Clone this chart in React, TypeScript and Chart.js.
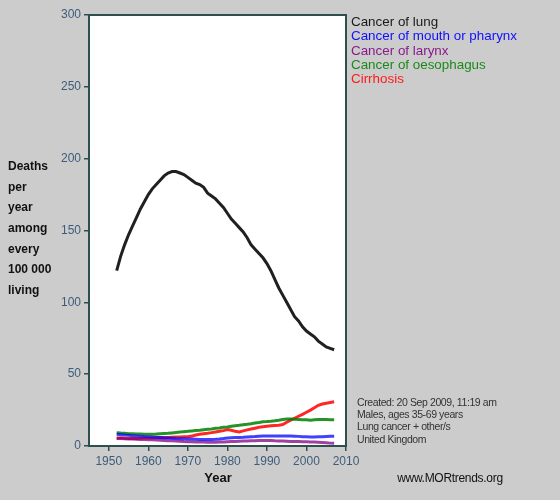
import React, { useEffect, useRef } from "react";
import { Chart, registerables } from "chart.js";

Chart.register(...registerables);

const years: number[] = [
  1952, 1953, 1954, 1955, 1956, 1957, 1958, 1959, 1960, 1961, 1962, 1963, 1964, 1965,
  1966, 1967, 1968, 1969, 1970, 1971, 1972, 1973, 1974, 1975, 1976, 1977, 1978, 1979,
  1980, 1981, 1982, 1983, 1984, 1985, 1986, 1987, 1988, 1989, 1990, 1991, 1992, 1993,
  1994, 1995, 1996, 1997, 1998, 1999, 2000, 2001, 2002, 2003, 2004, 2005, 2006, 2007,
];

const lung: number[] = [
  122, 132, 140, 147, 153, 159, 165, 170, 175, 179, 182, 185, 188, 190,
  191, 191, 190, 189, 187, 185, 183, 182, 180, 176, 174, 172, 169, 166,
  162, 158, 155, 152, 149, 145, 140, 137, 134, 131, 127, 122, 116, 110,
  105, 100, 95, 90, 87, 83, 80, 78, 76, 73, 71, 69, 68, 67,
];

const mouth: number[] = [
  8.1, 7.9, 7.6, 7.4, 7.2, 7.0, 6.8, 6.6, 6.5, 6.3, 6.1, 5.9, 5.7, 5.6,
  5.4, 5.2, 5.1, 5.0, 4.9, 4.8, 4.7, 4.6, 4.6, 4.6, 4.6, 4.7, 4.9, 5.2,
  5.6, 5.8, 5.9, 6.0, 6.1, 6.3, 6.5, 6.6, 6.8, 6.9, 7.0, 7.0, 7.0, 7.0,
  7.0, 7.0, 6.9, 6.8, 6.7, 6.5, 6.4, 6.3, 6.3, 6.4, 6.5, 6.6, 6.7, 6.7,
];

const larynx: number[] = [
  5.3, 5.2, 5.0, 4.9, 4.8, 4.7, 4.6, 4.5, 4.4, 4.3, 4.2, 4.0, 3.9, 3.7,
  3.6, 3.5, 3.3, 3.1, 3.0, 2.9, 2.8, 2.7, 2.7, 2.6, 2.6, 2.6, 2.7, 2.8,
  3.0, 3.1, 3.2, 3.3, 3.4, 3.5, 3.6, 3.7, 3.8, 3.9, 3.9, 3.8, 3.6, 3.5,
  3.4, 3.3, 3.2, 3.2, 3.1, 3.0, 2.9, 2.8, 2.7, 2.6, 2.4, 2.2, 2.0, 1.9,
];

const oesophagus: number[] = [
  9.3, 9.0, 8.8, 8.6, 8.5, 8.4, 8.3, 8.2, 8.1, 8.2, 8.3, 8.5, 8.7, 8.8,
  9.1, 9.4, 9.7, 10.0, 10.2, 10.5, 10.8, 11.0, 11.3, 11.6, 11.9, 12.3, 12.6, 13.0,
  13.3, 13.7, 14.1, 14.4, 14.8, 15.1, 15.5, 16.0, 16.4, 16.9, 17.0, 17.2, 17.5, 17.9,
  18.4, 18.8, 18.8, 18.6, 18.5, 18.3, 18.2, 17.9, 18.2, 18.5, 18.4, 18.4, 18.3, 18.3,
];

const cirrhosis: number[] = [
  5.6, 5.5, 5.4, 5.3, 5.3, 5.3, 5.4, 5.5, 5.6, 5.6, 5.7, 5.8, 5.9, 6.0,
  6.1, 6.2, 6.3, 6.4, 6.5, 6.9, 7.7, 8.2, 8.6, 8.9, 9.3, 9.8, 10.2, 10.7,
  11.4, 11.0, 10.2, 9.8, 10.5, 11.2, 11.8, 12.4, 13.0, 13.4, 13.8, 14.1, 14.3, 14.5,
  15.0, 16.5, 18.0, 19.3, 20.7, 22.0, 23.5, 25.0, 26.6, 28.3, 29.2, 29.8, 30.3, 30.8,
];

const seriesNames: string[] = [
  "Cancer of lung",
  "Cancer of mouth or pharynx",
  "Cancer of larynx",
  "Cancer of oesophagus",
  "Cirrhosis",
];
const seriesColors: string[] = ["#1a1a1a", "#1010ff", "#8a1a8a", "#1a8a1a", "#ff1a1a"];
const lineColors: string[] = [
  "rgba(20,20,20,0.95)",
  "rgba(0,0,255,0.75)",
  "rgba(128,0,128,0.75)",
  "rgba(0,128,0,0.85)",
  "rgba(255,0,0,0.85)",
];
const seriesValues: number[][] = [lung, mouth, larynx, oesophagus, cirrhosis];

const xTickValues: number[] = [1950, 1960, 1970, 1980, 1990, 2000, 2010];

const yTitleLines: string[] = ["Deaths", "per", "year", "among", "every", "100 000", "living"];
const noteLines: string[] = [
  "Created: 20 Sep 2009, 11:19 am",
  "Males, ages 35-69 years",
  "Lung cancer + other/s",
  "United Kingdom",
];

const X_MIN = 1945;
const X_MAX = 2010;
const Y_MIN = 0;
const Y_MAX = 300;

const axisColor = "#2f4f4f";
const tickColor = "#3d5c7a";
const FONT = "Arial, 'Liberation Sans', sans-serif";

const frame = {
  id: "frame",
  beforeDraw(chart: any) {
    const { ctx, chartArea: a } = chart;
    ctx.save();
    ctx.fillStyle = "#ffffff";
    ctx.fillRect(a.left, a.top, a.right - a.left, a.bottom - a.top);
    ctx.restore();
  },
  afterDraw(chart: any) {
    const { ctx, chartArea: a } = chart;
    ctx.save();
    ctx.strokeStyle = axisColor;
    ctx.lineWidth = 2;
    ctx.strokeRect(a.left, a.top, a.right - a.left, a.bottom - a.top);
    ctx.restore();
  },
};

export default function App() {
  const ref = useRef<HTMLCanvasElement | null>(null);

  useEffect(() => {
    if (!ref.current) return;
    const chart = new Chart(ref.current, {
      type: "line",
      data: {
        datasets: seriesValues.map((vals, i) => ({
          label: seriesNames[i],
          data: years.map((y, j) => ({ x: y, y: vals[j] })),
          borderColor: lineColors[i],
          borderWidth: 3,
          pointRadius: 0,
          tension: 0,
          fill: false,
        })),
      },
      options: {
        animation: false,
        responsive: false,
        maintainAspectRatio: false,
        layout: { padding: { left: 0, top: 15, right: 214, bottom: 0 } },
        plugins: { legend: { display: false }, tooltip: { enabled: false } },
        scales: {
          x: {
            type: "linear",
            min: X_MIN,
            max: X_MAX,
            afterFit: (s: any) => {
              s.height = 54;
            },
            afterBuildTicks: (s: any) => {
              s.ticks = xTickValues.map((v) => ({ value: v }));
            },
            ticks: {
              autoSkip: false,
              color: tickColor,
              font: { family: FONT, size: 12 },
              padding: 3,
              maxRotation: 0,
              callback: (v: any) => String(v),
            },
            grid: {
              drawOnChartArea: false,
              drawTicks: true,
              tickLength: 5,
              color: axisColor,
              lineWidth: 1.5,
            },
            border: { display: true, color: axisColor, width: 2 },
          },
          y: {
            min: Y_MIN,
            max: Y_MAX,
            afterFit: (s: any) => {
              s.width = 89;
            },
            ticks: {
              stepSize: 50,
              color: tickColor,
              font: { family: FONT, size: 12 },
              padding: 3,
            },
            grid: {
              drawOnChartArea: false,
              drawTicks: true,
              tickLength: 5,
              color: axisColor,
              lineWidth: 1.5,
            },
            border: { display: true, color: axisColor, width: 2 },
          },
        },
      },
      plugins: [frame],
    });
    return () => chart.destroy();
  }, []);

  return (
    <div
      style={{
        position: "fixed",
        left: 0,
        top: 0,
        width: 560,
        height: 500,
        background: "#cccccc",
        fontFamily: FONT,
        overflow: "hidden",
      }}
    >
      <canvas ref={ref} width={560} height={500} style={{ position: "absolute", left: 0, top: 0 }} />
      <div style={{ position: "absolute", left: 8, top: 156, fontWeight: "bold", fontSize: 12, color: "#111" }}>
        {yTitleLines.map((t) => (
          <div key={t} style={{ height: 20.7, lineHeight: "20.7px", whiteSpace: "nowrap" }}>
            {t}
          </div>
        ))}
      </div>
      <div style={{ position: "absolute", left: 351, top: 15, fontSize: 13.4 }}>
        {seriesNames.map((t, i) => (
          <div key={t} style={{ color: seriesColors[i], height: 14.3, lineHeight: "14.3px", whiteSpace: "nowrap" }}>
            {t}
          </div>
        ))}
      </div>
      <div style={{ position: "absolute", left: 357, top: 396, fontSize: 10.5, color: "#333", letterSpacing: -0.4 }}>
        {noteLines.map((t) => (
          <div key={t} style={{ height: 12.2, lineHeight: "12.2px", whiteSpace: "nowrap" }}>
            {t}
          </div>
        ))}
      </div>
      <div
        style={{
          position: "absolute",
          left: 190,
          width: 56,
          top: 470,
          textAlign: "center",
          fontWeight: "bold",
          fontSize: 13,
          color: "#111",
        }}
      >
        Year
      </div>
      <div
        style={{
          position: "absolute",
          left: 390,
          width: 120,
          top: 471,
          textAlign: "center",
          fontSize: 12,
          letterSpacing: -0.3,
          color: "#111",
          whiteSpace: "nowrap",
        }}
      >
        www.MORtrends.org
      </div>
    </div>
  );
}
